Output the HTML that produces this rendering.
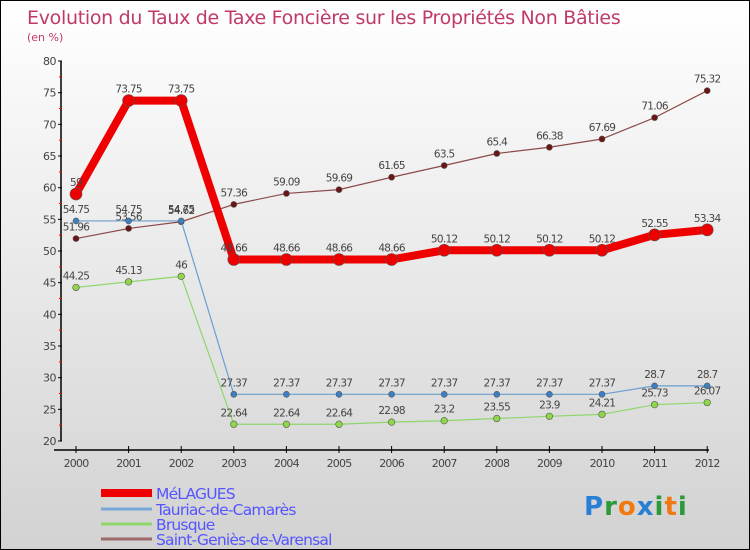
<!DOCTYPE html>
<html><head><meta charset="utf-8"><style>
body{margin:0}
#c{position:relative;width:748px;height:548px;border:1px solid #000;background:linear-gradient(#ffffff,#d2d2d2);overflow:hidden;font-family:"DejaVu Sans","Liberation Sans",sans-serif}
text{font-family:"DejaVu Sans","Liberation Sans",sans-serif}
</style></head><body>
<div id="c">
<svg id="s" width="748" height="548">
<text x="26" y="23" font-size="19" fill="#c0396a" letter-spacing="-0.3">Evolution du Taux de Taxe Foncière sur les Propriétés Non Bâties</text>
<text x="26" y="40" font-size="11" fill="#c0396a">(en %)</text>
</svg>
</div>
<script>
const years=[2000,2001,2002,2003,2004,2005,2006,2007,2008,2009,2010,2011,2012];
const yTicks=[20,25,30,35,40,45,50,55,60,65,70,75,80];
const melagues=[59,73.75,73.75,48.66,48.66,48.66,48.66,50.12,50.12,50.12,50.12,52.55,53.34];
const tauriac=[54.75,54.75,54.75,27.37,27.37,27.37,27.37,27.37,27.37,27.37,27.37,28.7,28.7];
const brusque=[44.25,45.13,46,22.64,22.64,22.64,22.98,23.2,23.55,23.9,24.21,25.73,26.07];
const saint=[51.96,53.56,54.62,57.36,59.09,59.69,61.65,63.5,65.4,66.38,67.69,71.06,75.32];
const names=["MéLAGUES","Tauriac-de-Camarès","Brusque","Saint-Geniès-de-Varensal"];
const s=document.getElementById('s');const NS='http://www.w3.org/2000/svg';
const X=i=>75+i*52.6, Y=v=>440-(v-20)*6.333;
function el(t,a,p){const e=document.createElementNS(NS,t);for(const k in a)e.setAttribute(k,a[k]);(p||s).appendChild(e);return e;}
let ax=el('line',{x1:60,y1:60,x2:60,y2:440,stroke:'#000','stroke-width':1.5});


let bx=el('line',{x1:53,y1:449,x2:708,y2:449,stroke:'#000','stroke-width':1.5});


yTicks.forEach(v=>{
 el('line',{x1:57,x2:61,y1:Y(v),y2:Y(v),stroke:'#000'});
 if(v<80){el('line',{x1:58,x2:61,y1:Y(v+2.5),y2:Y(v+2.5),stroke:'#f00'});}
 const t=el('text',{x:55,y:Y(v)+4,'font-size':11,fill:'#444','text-anchor':'end','letter-spacing':'-0.5'});t.textContent=v;
 
 
});
years.forEach((y,i)=>{
 el('line',{x1:X(i),x2:X(i),y1:445,y2:452,stroke:'#000'});
 const t=el('text',{x:X(i),y:466,'font-size':11,fill:'#444','text-anchor':'middle','letter-spacing':'-0.8'});t.textContent=y;
 
 
});
function series(d,col,w,r,fill,name){
 const g=el('g',{});
 
 
 el('polyline',{points:d.map((v,i)=>X(i)+','+Y(v)).join(' '),fill:'none',stroke:col,'stroke-width':w,'stroke-linejoin':'round'},g);
 d.forEach((v,i)=>{
  const c=el('circle',{cx:X(i),cy:Y(v),r:r,fill:fill,stroke:'#555','stroke-width':0.6},g);
  
  
  const t=el('text',{x:X(i),y:Y(v)-8,'font-size':10.5,fill:'#444','text-anchor':'middle','letter-spacing':'-0.7'},g);t.textContent=v;
 });
}
series(saint,'#8b4a4a',1.2,3,'#6b1515','series-saint-genies');
series(brusque,'#8fd66b',1.2,3.3,'#8fd64b','series-brusque');
series(tauriac,'#6a9fd0',1.2,3,'#3d7fc4','series-tauriac');
series(melagues,'#ee0000',8,6,'#ee0000','series-melagues');
const cols=['#ee0000','#78a8d8','#8fd66b','#9b6a6a'],ws=[8,3,3,3],ly=[492,508,523,538];
names.forEach((n,i)=>{
 el('line',{x1:100,x2:151,y1:ly[i],y2:ly[i],stroke:cols[i],'stroke-width':ws[i]});
 const t=el('text',{x:155,y:ly[i]+6,'font-size':15.5,fill:'#5555ff','letter-spacing':'-0.8'});t.textContent=n;
 
 
});
const p=el('text',{x:583,y:514,'font-size':26,'font-weight':'bold','letter-spacing':'1'});


[['P','#2a7fd4'],['r','#2a9a3a'],['o','#f07a10'],['x','#2a7fd4'],['i','#2a9a3a'],['t','#f07a10'],['i','#2a9a3a']].forEach(([c,f])=>{const t=el('tspan',{fill:f},p);t.textContent=c;});
</script>
</body></html>
